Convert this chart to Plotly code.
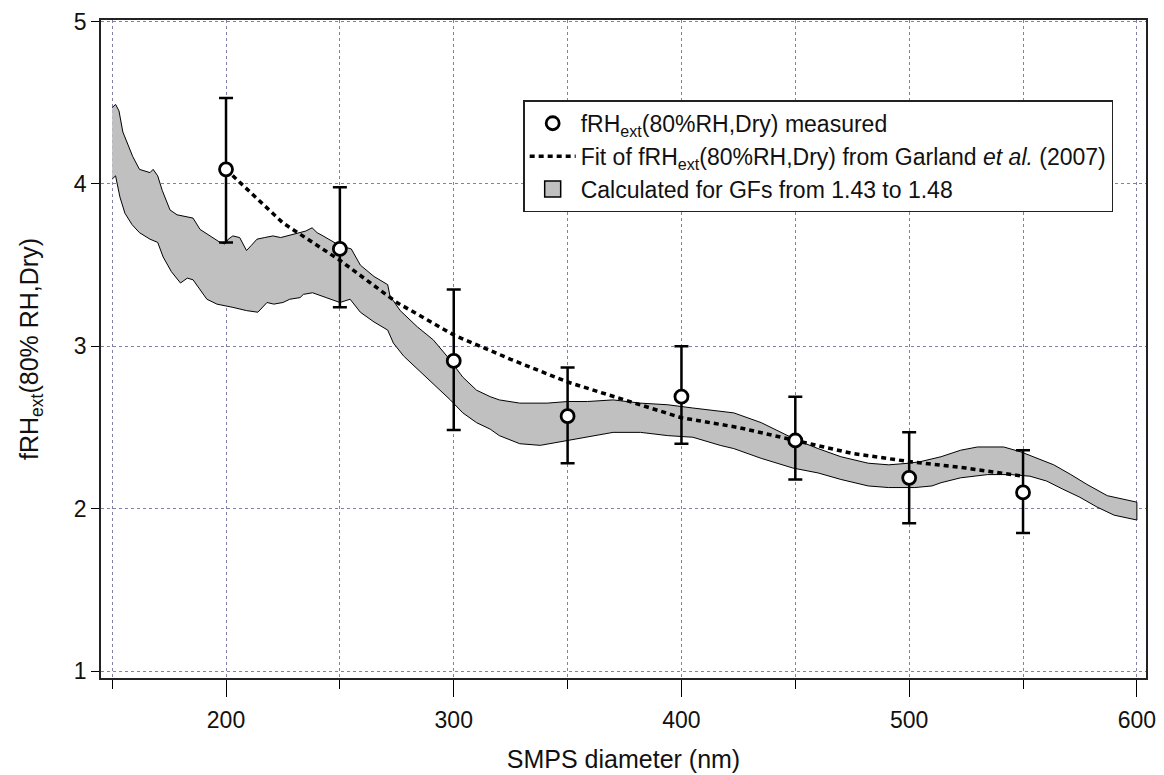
import plotly.graph_objects as go

# Measured fRH_ext points
meas_x = [200, 250, 300, 350, 400, 450, 500, 550]
meas_y = [4.09, 3.60, 2.91, 2.57, 2.69, 2.42, 2.19, 2.10]
meas_hi = [4.53, 3.98, 3.35, 2.87, 3.00, 2.69, 2.47, 2.36]
meas_lo = [3.64, 3.24, 2.485, 2.28, 2.40, 2.18, 1.91, 1.85]

# Fit from Garland et al. (2007)
fit_x = [200, 225, 250, 275, 300, 325, 350, 375, 400, 425, 450, 475, 500, 525, 550]
fit_y = [4.09, 3.76, 3.53, 3.27, 3.07, 2.92, 2.78, 2.67, 2.56, 2.50, 2.42, 2.34, 2.29, 2.25, 2.20]

# Calculated band (GF 1.43 - 1.48): upper and lower edges
up_x = [150, 151.5, 153, 154.7, 157, 159, 162, 164, 166.6, 168, 170, 172, 175.4, 178.5, 182,
        185.5, 188.6, 191, 193, 197.4, 199.5, 201, 203, 206, 209, 211, 213.6, 217, 220.6, 224,
        226.8, 230, 232.5, 235, 237.8, 240, 242.6, 246, 250, 255, 259, 265, 271, 272, 276.5,
        284, 291, 297, 304, 310, 316, 320, 329, 341, 350, 358.7, 370, 382, 394, 405, 417, 423,
        435, 443.5, 451, 460, 470, 482, 491, 500, 505, 514, 522.6, 530, 541.5, 549, 556, 563.5,
        571, 578, 587, 596, 600]
up_y = [4.47, 4.49, 4.45, 4.32, 4.24, 4.17, 4.09, 4.08, 4.07, 4.09, 4.05, 3.96, 3.84, 3.81, 3.80,
        3.79, 3.72, 3.70, 3.68, 3.64, 3.63, 3.66, 3.68, 3.67, 3.59, 3.62, 3.66, 3.67, 3.68, 3.67,
        3.68, 3.69, 3.70, 3.71, 3.73, 3.70, 3.68, 3.65, 3.62, 3.60, 3.50, 3.43, 3.38, 3.31, 3.22,
        3.12, 3.04, 2.94, 2.81, 2.73, 2.69, 2.67, 2.65, 2.65, 2.66, 2.66, 2.67, 2.65, 2.64, 2.62, 2.60, 2.59,
        2.53, 2.47, 2.42, 2.37, 2.32, 2.28, 2.27, 2.28, 2.29, 2.32, 2.36, 2.38, 2.38, 2.35, 2.31, 2.27,
        2.21, 2.15, 2.08, 2.05, 2.04]
lo_x = [150, 151.5, 153.4, 155.6, 158.7, 162, 166.6, 170, 172.4, 176, 180, 183, 185.5, 188.6,
        191.6, 196, 203, 209, 214, 218, 221, 225, 228, 232.5, 234, 238, 244, 250, 254.5, 259, 265,
        271, 273.5, 278, 284, 291, 298.5, 304, 310, 316, 320, 329, 338, 350, 358.7, 370, 382, 394,
        405, 417, 423, 435, 449, 460, 470, 482, 491, 502.5, 510, 514, 522.6, 534.5, 544.6, 553,
        560.4, 567.5, 575, 582.5, 590, 600]
lo_y = [4.03, 4.05, 3.92, 3.82, 3.75, 3.70, 3.66, 3.64, 3.55, 3.46, 3.39, 3.42, 3.41, 3.35,
        3.29, 3.26, 3.24, 3.22, 3.21, 3.27, 3.26, 3.27, 3.29, 3.30, 3.32, 3.33, 3.30, 3.27, 3.29, 3.21, 3.15,
        3.10, 3.02, 2.94, 2.86, 2.77, 2.67, 2.59, 2.53, 2.49, 2.45, 2.40, 2.39, 2.42, 2.44, 2.47, 2.47, 2.45,
        2.44, 2.39, 2.37, 2.31, 2.25, 2.22, 2.18, 2.14, 2.13, 2.13, 2.14, 2.16, 2.19, 2.21, 2.21, 2.20,
        2.17, 2.12, 2.07, 2.01, 1.96, 1.93]

x_ticks = [200, 300, 400, 500, 600]
y_ticks = [1, 2, 3, 4, 5]

FONT = "Liberation Sans, Arial, sans-serif"
GRID = "#8080a8"

fig = go.Figure()

fig.add_trace(go.Scatter(
    x=up_x + lo_x[::-1], y=up_y + lo_y[::-1],
    mode="lines", fill="toself", fillcolor="#c0c0c0",
    line=dict(color="black", width=1),
    showlegend=False,
))

fig.add_trace(go.Scatter(
    x=fit_x, y=fit_y, mode="lines",
    line=dict(color="black", width=3.5, dash="5px,4px"),
    name="Fit of fRH<sub>ext</sub>(80%RH,Dry) from Garland <i>et al.</i> (2007)",
    legendrank=2,
))

fig.add_trace(go.Scatter(
    x=meas_x, y=meas_y, mode="markers",
    marker=dict(symbol="circle", size=13, color="white", line=dict(color="black", width=2.8)),
    error_y=dict(type="data", symmetric=False,
                 array=[h - y for h, y in zip(meas_hi, meas_y)],
                 arrayminus=[y - l for l, y in zip(meas_lo, meas_y)],
                 color="black", thickness=2.5, width=7),
    name="fRH<sub>ext</sub>(80%RH,Dry) measured",
    legendrank=1,
))

# legend swatch for the calculated band
fig.add_trace(go.Scatter(
    x=[None], y=[None], mode="markers",
    marker=dict(symbol="square", size=19, color="#c0c0c0", line=dict(color="black", width=1.5)),
    name="Calculated for GFs from 1.43 to 1.48",
    legendrank=3,
))

fig.update_layout(
    width=1164, height=775,
    margin=dict(l=101, r=18, t=20, b=97),
    paper_bgcolor="white", plot_bgcolor="white",
    font=dict(family=FONT, size=23, color="#111"),
    showlegend=True,
    legend=dict(
        x=0.404, y=0.878, xanchor="left", yanchor="top",
        bgcolor="white", bordercolor="#222", borderwidth=1.5,
        font=dict(family=FONT, size=23, color="#111"),
        tracegroupgap=0, itemwidth=46,
    ),
)

fig.update_xaxes(
    range=[145.1, 604.0], automargin=False,
    tickvals=x_ticks, ticks="outside", ticklen=17, tickwidth=1.2, tickcolor="black",
    ticklabelstandoff=4,
    showline=True, linecolor="#222", linewidth=1.5, mirror=True,
    showgrid=True, gridcolor=GRID, griddash="dot", gridwidth=1,
    minor=dict(dtick=50, tick0=150, ticks="outside", ticklen=9, tickcolor="black", tickwidth=1.2,
               showgrid=True, gridcolor=GRID, griddash="dot", gridwidth=1),
    zeroline=False,
    title=dict(text="SMPS diameter (nm)", font=dict(size=25), standoff=18),
)
fig.update_yaxes(
    range=[0.957, 5.01], automargin=False,
    tickvals=y_ticks, ticks="outside", ticklen=8, tickwidth=1.2, tickcolor="black",
    showline=True, linecolor="#222", linewidth=1.5, mirror=True,
    showgrid=True, gridcolor=GRID, griddash="dot", gridwidth=1,
    zeroline=False,
    title=dict(text="fRH<sub>ext</sub>(80% RH,Dry)", font=dict(size=25), standoff=28),
)

fig.write_html("out.html", config={"displayModeBar": False},
               post_script="document.body.style.margin='0';")
